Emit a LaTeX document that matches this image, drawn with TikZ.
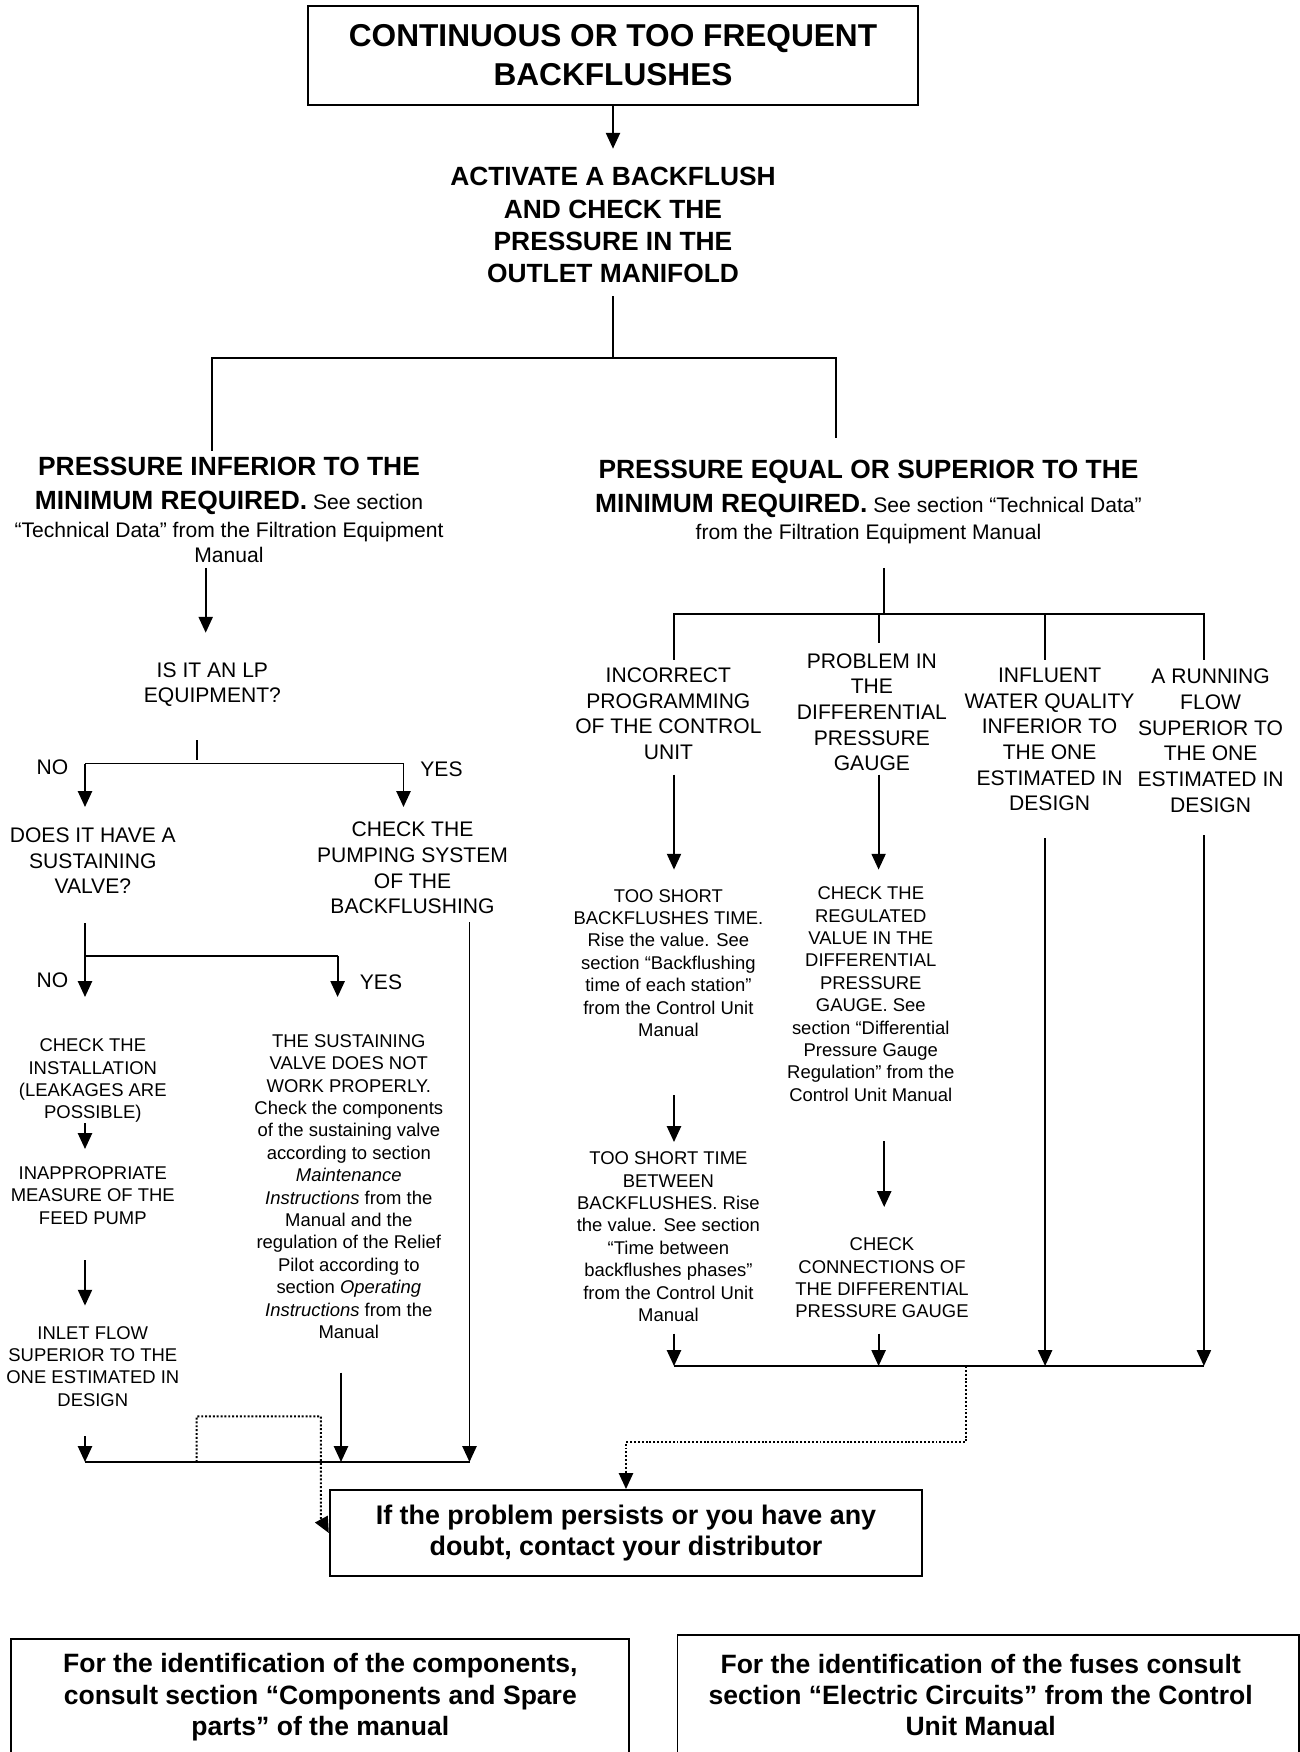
\documentclass[tikz,border=0pt]{standalone}
\usepackage{fontspec}
\setmainfont{Liberation Sans}
\usetikzlibrary{arrows.meta}
\tikzset{
  wire/.style={line width=1.1pt},
  flow/.style={wire, -{Triangle[length=9pt,width=8pt]}},
  back/.style={line width=1.1pt, dash pattern=on 1.1pt off 1.1pt},
  backflow/.style={back, -{Triangle[length=9pt,width=8pt]}},
  txt/.style={inner sep=0pt, align=center, anchor=north},
  med/.style={txt, font=\fontsize{12}{14.6}\selectfont},
  sml/.style={txt, font=\fontsize{10.5}{12.75}\selectfont},
  hd/.style={txt, font=\fontsize{15}{18.3}\selectfont\bfseries},
  frame/.style={draw, line width=1.1pt, align=center, inner sep=0pt},
  lab/.style={inner sep=0pt, font=\fontsize{12}{14.6}\selectfont},
}
\newcommand{\hdtxt}[1]{{\fontsize{15}{18.3}\selectfont\bfseries #1}}

\begin{document}
\begin{tikzpicture}[x=0.02cm, y=-0.02cm]
\useasboundingbox (0,0) rectangle (1300,1752);
%% title and first step
\node[frame, minimum width=12.2cm, minimum height=1.99cm,
  font=\fontsize{18}{22.2}\selectfont\bfseries] (title) at (613,55.3)
  {CONTINUOUS OR TOO FREQUENT\\BACKFLUSHES};
\node[hd] (act) at (613,167.2) {ACTIVATE A BACKFLUSH\\AND CHECK THE\\PRESSURE IN THE\\OUTLET MANIFOLD};
\coordinate (a0) at (613,148.7);
\draw[flow] (title) -- (a0);
\coordinate (s0) at (613,296);
\coordinate (s1) at (613,357.7);
\coordinate (lb) at (212.4,450.5);
\coordinate (rb) at (836,438);
\draw[wire] (s0) -- (s1);
\draw[wire] (lb) |- (s1) -| (rb);

%% the two pressure cases
\node[med] (lhead) at (229,456.6)
  {\hdtxt{PRESSURE INFERIOR TO THE}\\[4.6pt]
   \hdtxt{MINIMUM REQUIRED.} See section\\[1.3pt]
   “Technical Data” from the Filtration Equipment\\
   Manual};
\node[med] (rhead) at (868.5,460.1)
  {\hdtxt{PRESSURE EQUAL OR SUPERIOR TO THE}\\[4.5pt]
   \hdtxt{MINIMUM REQUIRED.} See section “Technical Data”\\[0.7pt]
   from the Filtration Equipment Manual};

%% left branch
\coordinate (l0) at (205.7,567.8);
\coordinate (l1) at (205.7,632.7);
\draw[flow] (l0) -- (l1);
\node[med] (lp) at (212.4,662) {IS IT AN LP\\EQUIPMENT?};
\coordinate (q0) at (196.7,740);
\coordinate (q1) at (196.7,760);
\coordinate (no1) at (85,763.5);
\coordinate (ye1) at (403.5,763.5);
\coordinate (no1e) at (85,807);
\coordinate (ye1e) at (403.5,807);
\draw[wire] (q0) -- (q1);
\draw[wire] (no1) -- (ye1);
\draw[flow] (no1) -- (no1e);
\draw[flow] (ye1) -- (ye1e);
\node[lab] (nolab) at (52.5,766.8) {NO};
\node[lab] (yeslab) at (441.5,769) {YES};

\node[med] (hasv) at (92.8,827.5) {DOES IT HAVE A\\SUSTAINING\\VALVE?};
\node[med] (pump) at (412.5,821.9) {CHECK THE\\PUMPING SYSTEM\\OF THE\\BACKFLUSHING};
\coordinate (v0) at (85,923.3);
\coordinate (v1) at (85,955.7);
\coordinate (v2) at (337.6,955.7);
\coordinate (v1e) at (85,997);
\coordinate (v2e) at (337.6,997);
\draw[wire] (v0) -- (v1) -- (v2);
\draw[flow] (v1) -- (v1e);
\draw[flow] (v2) -- (v2e);
\node[lab] (nolab2) at (52.5,980) {NO};
\node[lab] (yeslab2) at (381,982.5) {YES};

\node[sml] (inst) at (92.8,1038.4) {CHECK THE\\INSTALLATION\\(LEAKAGES ARE\\POSSIBLE)};
\node[sml] (feed) at (92.8,1166) {INAPPROPRIATE\\MEASURE OF THE\\FEED PUMP};
\node[sml] (inlet) at (92.8,1325.8) {INLET FLOW\\SUPERIOR TO THE\\ONE ESTIMATED IN\\DESIGN};
\node[sml] (svbad) at (348.8,1034.1) {THE SUSTAINING\\VALVE DOES NOT\\WORK PROPERLY.\\Check the components\\of the sustaining valve\\according to section\\\textit{Maintenance}\\\textit{Instructions} from the\\Manual and the\\regulation of the Relief\\Pilot according to\\section \textit{Operating}\\\textit{Instructions} from the\\Manual};
\coordinate (i0) at (85,1123);
\coordinate (i1) at (85,1149);
\coordinate (f0) at (85,1260);
\coordinate (f1) at (85,1305.6);
\coordinate (n0) at (85,1436.4);
\coordinate (n1) at (85,1462);
\coordinate (t0) at (341,1372.7);
\coordinate (t1) at (341,1462);
\coordinate (p0) at (469.5,922);
\coordinate (p1) at (469.5,1462);
\draw[flow] (i0) -- (i1);
\draw[flow] (f0) -- (f1);
\draw[flow] (n0) -- (n1);
\draw[flow] (t0) -- (t1);
\draw[flow] (p0) -- (p1);
\draw[wire] (n1) -- (p1);

%% right branch
\coordinate (r0) at (884.2,567.8);
\coordinate (r1) at (884.2,613.7);
\coordinate (k1) at (674,659.5);
\coordinate (k2) at (878.6,642.7);
\coordinate (k3) at (1045.1,659.5);
\coordinate (k4) at (1203.9,659.5);
\draw[wire] (r0) -- (r1);
\draw[wire] (k1) -- (k1 |- r1) -- (k4 |- r1) -- (k4);
\draw[wire] (k2) -- (k2 |- r1);
\draw[wire] (k3) -- (k3 |- r1);

\node[med] (incorr) at (668.4,667.6) {INCORRECT\\PROGRAMMING\\OF THE CONTROL\\UNIT};
\node[med] (probl) at (871.9,653) {PROBLEM IN\\THE\\DIFFERENTIAL\\PRESSURE\\GAUGE};
\node[med] (influ) at (1049.6,667.6) {INFLUENT\\WATER QUALITY\\INFERIOR TO\\THE ONE\\ESTIMATED IN\\DESIGN};
\node[med] (runn) at (1210.6,668.7) {A RUNNING\\FLOW\\SUPERIOR TO\\THE ONE\\ESTIMATED IN\\DESIGN};

\node[sml] (tsb) at (668.4,888.8) {TOO SHORT\\BACKFLUSHES TIME.\\Rise the value. See\\section “Backflushing\\time of each station”\\from the Control Unit\\Manual};
\node[sml] (tsbt) at (668.4,1151.4) {TOO SHORT TIME\\BETWEEN\\BACKFLUSHES. Rise\\the value. See section\\“Time between\\backflushes phases”\\from the Control Unit\\Manual};
\node[sml] (creg) at (870.8,886.4) {CHECK THE\\REGULATED\\VALUE IN THE\\DIFFERENTIAL\\PRESSURE\\GAUGE. See\\section “Differential\\Pressure Gauge\\Regulation” from the\\Control Unit Manual};
\node[sml] (conn) at (882,1237.4) {CHECK\\CONNECTIONS OF\\THE DIFFERENTIAL\\PRESSURE GAUGE};

\coordinate (e1s) at (674,774.6);
\coordinate (e1e) at (674,869.6);
\coordinate (e2s) at (878.6,774.6);
\coordinate (e2e) at (878.6,869.6);
\coordinate (e3s) at (1045.1,838.4);
\coordinate (e3e) at (1045.1,1366);
\coordinate (e4s) at (1203.9,835);
\coordinate (e4e) at (1203.9,1366);
\coordinate (g1s) at (674,1095);
\coordinate (g1e) at (674,1142);
\coordinate (g2s) at (884.2,1141.3);
\coordinate (g2e) at (884.2,1207);
\coordinate (m1s) at (674,1333.5);
\coordinate (m1e) at (674,1366);
\coordinate (m2s) at (878.6,1333.5);
\coordinate (m2e) at (878.6,1366);
\draw[flow] (e1s) -- (e1e);
\draw[flow] (e2s) -- (e2e);
\draw[flow] (e3s) -- (e3e);
\draw[flow] (e4s) -- (e4e);
\draw[flow] (g1s) -- (g1e);
\draw[flow] (g2s) -- (g2e);
\draw[flow] (m1s) -- (m1e);
\draw[flow] (m2s) -- (m2e);
\draw[wire] (m1e) -- (e4e);

%% last step
\node[frame, minimum width=11.85cm, minimum height=1.72cm,
  font=\fontsize{15.3}{17.8}\selectfont\bfseries] (final) at (626,1533)
  {If the problem persists or you have any\\doubt, contact your distributor};
\coordinate (d0) at (196.7,1462);
\coordinate (d1) at (196.7,1416.3);
\coordinate (d2) at (320.8,1416.3);
\coordinate (d3) at (320.8,1518);
\draw[backflow] (d0) -- (d1) -- (d2) -- (d3) -- (final.west);
\coordinate (x0) at (965.8,1366);
\coordinate (x1) at (965.8,1442);
\coordinate (x2) at (626,1442);
\draw[backflow] (x0) -- (x1) -- (x2) -- (final.north);

%% notes at the foot
\node[frame, minimum width=12.36cm, minimum height=2.344cm,
  font=\fontsize{15.1}{17.8}\selectfont\bfseries] (comp) at (320.3,1697.3)
  {For the identification of the components,\\consult section “Components and Spare\\parts” of the manual};
\node[frame, minimum width=12.43cm, minimum height=2.388cm,
  font=\fontsize{15.1}{17.8}\selectfont\bfseries] (fuse) at (988.2,1695)
  {\hspace*{-0.3cm}For the identification of the fuses consult\\\hspace*{-0.3cm}section “Electric Circuits” from the Control\\\hspace*{-0.3cm}Unit Manual};
\end{tikzpicture}
\end{document}
